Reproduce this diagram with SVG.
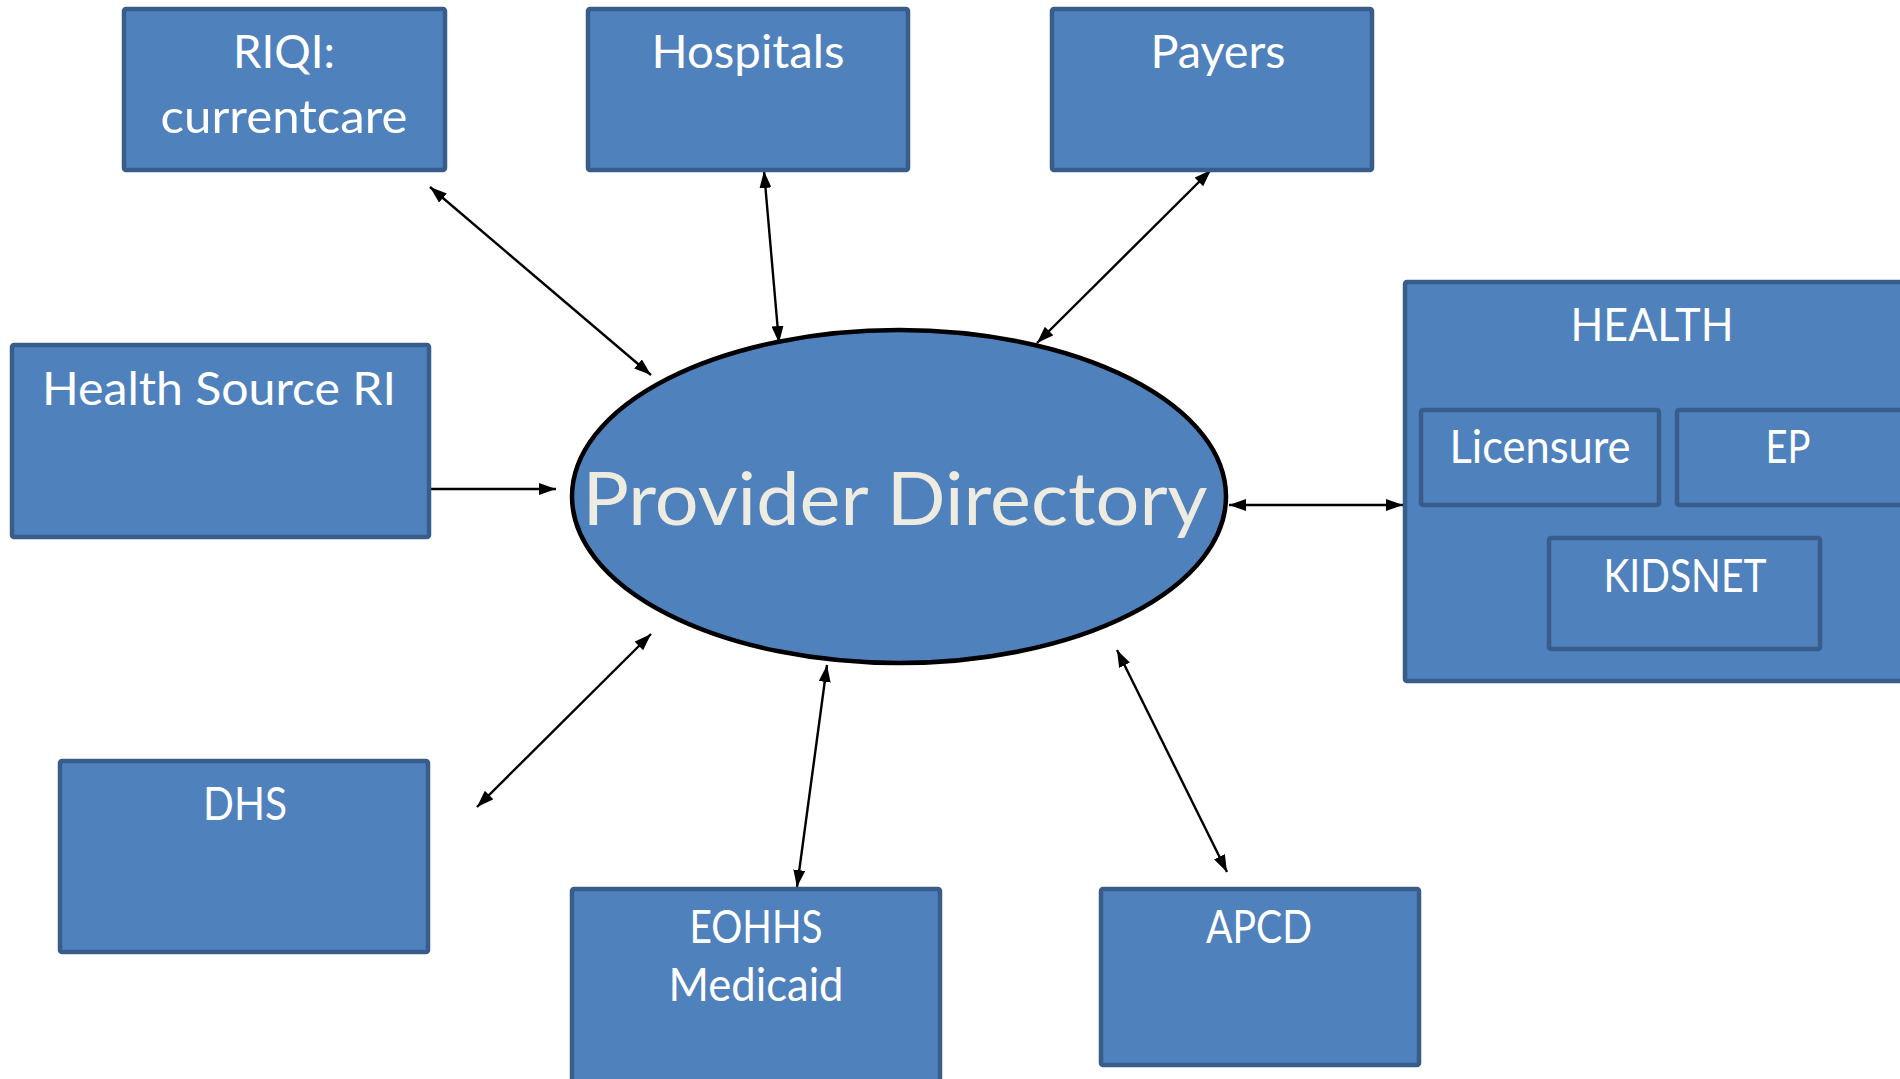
<svg xmlns="http://www.w3.org/2000/svg" width="1900" height="1079" viewBox="0 0 1900 1079">
<style>
.box{fill:#4F81BD;stroke:#385D8A;stroke-width:4.5}
.lbl{font-family:Lato,"Liberation Sans",sans-serif;font-size:47px;fill:#FFFFFF;text-anchor:middle}
.title{font-family:Lato,"Liberation Sans",sans-serif;font-size:74px;fill:#EEECE1;text-anchor:middle}
.conn{stroke:#000000;stroke-width:2.4;fill:none}
.bi{marker-start:url(#ah);marker-end:url(#ah)}
.uni{marker-end:url(#ah)}
</style>
<defs>
<marker id="ah" markerUnits="userSpaceOnUse" markerWidth="17" markerHeight="12" refX="17" refY="6" orient="auto-start-reverse">
<path d="M0,0 L17,6 L0,12 z" fill="#000000"/>
</marker>
</defs>
<rect width="1900" height="1079" fill="#FFFFFF"/>
<g id="connectors">
<line class="conn bi" x1="430" y1="187" x2="651" y2="375"/>
<line class="conn bi" x1="764" y1="171" x2="779" y2="343"/>
<line class="conn bi" x1="1211" y1="170" x2="1037" y2="343"/>
<line class="conn uni" x1="431" y1="489" x2="556" y2="489"/>
<line class="conn bi" x1="1229" y1="505" x2="1403" y2="505"/>
<line class="conn bi" x1="651" y1="634" x2="477" y2="807"/>
<line class="conn bi" x1="827" y1="665" x2="797" y2="887"/>
<line class="conn bi" x1="1117" y1="650" x2="1227" y2="872"/>
</g>
<g id="riqi">
<rect class="box" x="124" y="9" width="321" height="161" rx="2"/>
<text class="lbl" x="284" y="68" textLength="102" lengthAdjust="spacingAndGlyphs">RIQI:</text>
<text class="lbl" x="284" y="133" textLength="247" lengthAdjust="spacingAndGlyphs">currentcare</text>
</g>
<g id="hospitals">
<rect class="box" x="588" y="9" width="320" height="161" rx="2"/>
<text class="lbl" x="748" y="68" textLength="193" lengthAdjust="spacingAndGlyphs">Hospitals</text>
</g>
<g id="payers">
<rect class="box" x="1052" y="9" width="320" height="161" rx="2"/>
<text class="lbl" x="1218" y="68" textLength="135" lengthAdjust="spacingAndGlyphs">Payers</text>
</g>
<g id="health-source-ri">
<rect class="box" x="12" y="345" width="417" height="192" rx="2"/>
<text class="lbl" x="219" y="405" textLength="354" lengthAdjust="spacingAndGlyphs">Health Source RI</text>
</g>
<g id="provider-directory">
<ellipse cx="899" cy="496.5" rx="327" ry="166.5" fill="#4F81BD" stroke="#000000" stroke-width="4.5"/>
<text class="title" x="895" y="525" textLength="625" lengthAdjust="spacingAndGlyphs">Provider Directory</text>
</g>
<g id="health">
<rect class="box" x="1405" y="282" width="520" height="399" rx="2"/>
<text class="lbl" x="1652" y="341" textLength="163" lengthAdjust="spacingAndGlyphs">HEALTH</text>
</g>
<g id="licensure">
<rect class="box" x="1421" y="410" width="238" height="95" rx="2"/>
<text class="lbl" x="1540" y="463" textLength="181" lengthAdjust="spacingAndGlyphs">Licensure</text>
</g>
<g id="ep">
<rect class="box" x="1677" y="410" width="260" height="95" rx="2"/>
<text class="lbl" x="1788" y="463" textLength="45" lengthAdjust="spacingAndGlyphs">EP</text>
</g>
<g id="kidsnet">
<rect class="box" x="1549" y="538" width="271" height="111" rx="2"/>
<text class="lbl" x="1685" y="592" textLength="163" lengthAdjust="spacingAndGlyphs">KIDSNET</text>
</g>
<g id="dhs">
<rect class="box" x="60" y="761" width="368" height="191" rx="2"/>
<text class="lbl" x="245" y="820" textLength="84" lengthAdjust="spacingAndGlyphs">DHS</text>
</g>
<g id="eohhs-medicaid">
<rect class="box" x="572" y="889" width="368" height="220" rx="2"/>
<text class="lbl" x="756" y="943" textLength="133" lengthAdjust="spacingAndGlyphs">EOHHS</text>
<text class="lbl" x="756" y="1001" textLength="175" lengthAdjust="spacingAndGlyphs">Medicaid</text>
</g>
<g id="apcd">
<rect class="box" x="1101" y="889" width="318" height="176" rx="2"/>
<text class="lbl" x="1259" y="943" textLength="106" lengthAdjust="spacingAndGlyphs">APCD</text>
</g>
</svg>
